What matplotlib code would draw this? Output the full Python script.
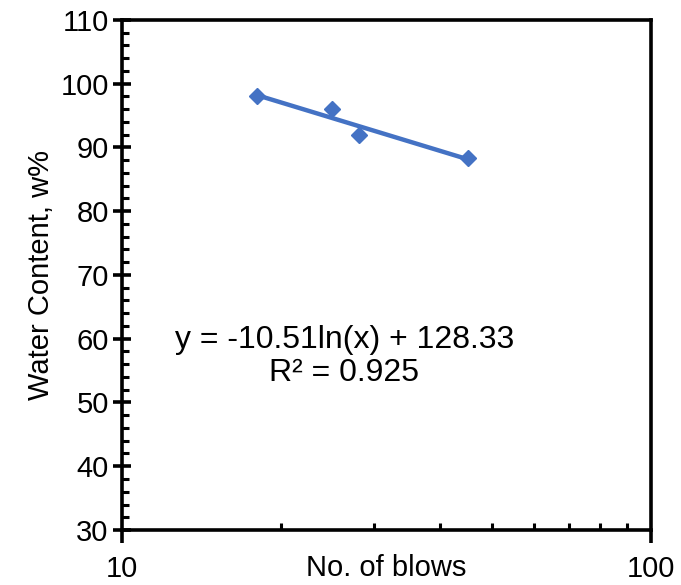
import numpy as np
import matplotlib.pyplot as plt
from matplotlib.ticker import MultipleLocator, LogLocator, NullFormatter, FixedLocator

plt.rcParams['font.family'] = ['Liberation Sans', 'DejaVu Sans']

blows = [18, 25, 28, 45]
water = [98.0, 96.0, 92.0, 88.3]

fig = plt.figure(figsize=(6.81, 5.85), dpi=100)
ax = fig.add_axes([0.179, 0.094, 0.777, 0.872])

# log trendline fitted to the points
a, b = np.polyfit(np.log(blows), water, 1)
xs = np.linspace(min(blows), max(blows), 100)
ax.plot(xs, a * np.log(xs) + b, color='#4472C4', lw=3.2, zorder=2)
ax.plot(blows, water, 'D', color='#4472C4', ms=8.5, zorder=3)

ax.set_xscale('log')
ax.set_xlim(10, 100)
ax.set_ylim(30, 110)
ax.xaxis.set_major_locator(FixedLocator([10, 100]))
ax.xaxis.set_major_formatter(plt.FuncFormatter(lambda v, p: f'{v:g}'))
ax.xaxis.set_minor_locator(LogLocator(base=10, subs=np.arange(2, 10)))
ax.xaxis.set_minor_formatter(NullFormatter())
ax.yaxis.set_major_locator(MultipleLocator(10))
ax.yaxis.set_minor_locator(MultipleLocator(2))

for s in ax.spines.values():
    s.set_linewidth(2.6)

ax.tick_params(axis='x', which='major', direction='out', length=9, width=2.6, labelsize=21, pad=9)
ax.tick_params(axis='x', which='minor', direction='in', length=5, width=2.2)
ax.tick_params(axis='y', which='major', direction='inout', length=13, width=2.6, labelsize=21, pad=3)
ax.tick_params(axis='y', which='minor', direction='in', length=5, width=2.2)

ax.set_xlabel('No. of blows', fontsize=21, labelpad=-21)
ax.set_ylabel('Water Content, w%', fontsize=21, labelpad=4)

ax.text(0.42, 0.34, 'y = -10.51ln(x) + 128.33\nR² = 0.925', transform=ax.transAxes,
        fontsize=23, ha='center', va='center', multialignment='center', linespacing=1.1)

fig.savefig('out.png', dpi=100)
